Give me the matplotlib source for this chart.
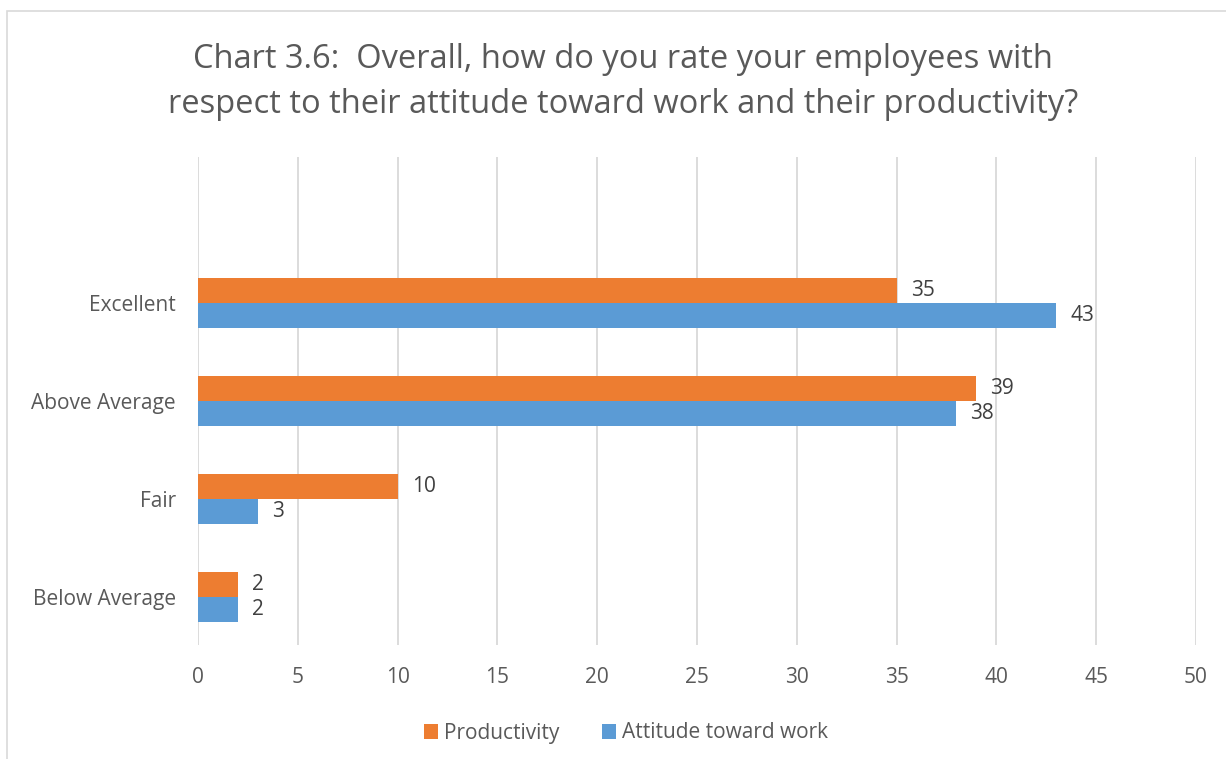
import matplotlib.pyplot as plt
from matplotlib.patches import Rectangle
import numpy as np

# Survey results (number of respondents)
categories = ['Below Average', 'Fair', 'Above Average', 'Excellent']
productivity = [2, 10, 39, 35]
attitude = [2, 3, 38, 43]
x_ticks = [0, 5, 10, 15, 20, 25, 30, 35, 40, 45, 50]

ORANGE = '#ED7D31'
BLUE = '#5B9BD5'
TEXT = '#595959'
GRID = '#D9D9D9'
FS = 15

plt.rcParams['font.family'] = ['Open Sans', 'DejaVu Sans']

fig = plt.figure(figsize=(12.26, 7.59), dpi=100)
fig.patches.append(Rectangle((7 / 1226, -0.1), 1.2, 1 - 11 / 759 + 0.1,
                             transform=fig.transFigure, fill=False,
                             edgecolor=GRID, linewidth=1.2))

ax = fig.add_axes([198 / 1226, 1 - 645 / 759, 998 / 1226, 488 / 759])

y = np.arange(len(categories))
h = 0.255
ax.barh(y + h / 2, productivity, height=h, color=ORANGE, label='Productivity', zorder=3)
ax.barh(y - h / 2, attitude, height=h, color=BLUE, label='Attitude toward work', zorder=3)

for yi, v in zip(y, productivity):
    ax.text(v + 0.7, yi + h / 2, str(v), va='center', ha='left', fontsize=FS, color='#404040')
for yi, v in zip(y, attitude):
    ax.text(v + 0.7, yi - h / 2, str(v), va='center', ha='left', fontsize=FS, color='#404040')

ax.set_xlim(0, 50)
ax.set_ylim(-0.49, 4.49)
ax.set_xticks(x_ticks)
ax.set_yticks(y)
ax.set_yticklabels(categories)
ax.tick_params(axis='both', length=0, labelsize=FS, labelcolor=TEXT)
ax.tick_params(axis='x', pad=16)
ax.tick_params(axis='y', pad=16)
ax.grid(axis='x', color=GRID, linewidth=1.3, zorder=0)
for s in ax.spines.values():
    s.set_visible(False)

fig.text(623 / 1226, 1 - 82 / 759,
         'Chart 3.6:  Overall, how do you rate your employees with\n'
         'respect to their attitude toward work and their productivity?',
         ha='center', va='center', fontsize=23.5, color=TEXT, linespacing=1.5)

handles, labels = ax.get_legend_handles_labels()
fig.legend(handles, labels, loc='center', bbox_to_anchor=(626 / 1226, 1 - 733 / 759),
           ncol=2, frameon=False, fontsize=FS, labelcolor=TEXT,
           handlelength=0.7, handleheight=0.7, handletextpad=0.3, columnspacing=2.0)

fig.savefig('out.png', dpi=100)
